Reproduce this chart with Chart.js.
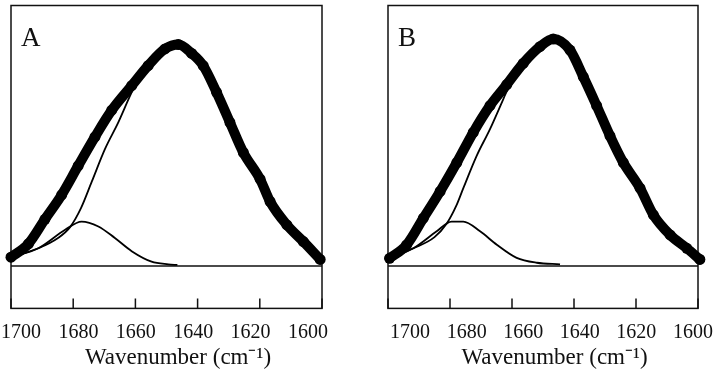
<!DOCTYPE html>
<html>
<head>
<meta charset="utf-8">
<script src="https://cdn.jsdelivr.net/npm/chart.js@4"></script>
<style>
  html, body { margin: 0; padding: 0; background: #fff; }
  .panel { position: absolute; top: 0; width: 360px; height: 379px; }
</style>
</head>
<body>
<div class="panel" style="left:0"><canvas id="chartA" width="360" height="379"></canvas></div>
<div class="panel" style="left:360px"><canvas id="chartB" width="360" height="379"></canvas></div>
<script>
// tick values of the wavenumber axis
const tickValues = [1700, 1680, 1660, 1640, 1620, 1600];

// Panel A : measured spectrum (thick) + the two fitted components
const sumWaveA = [1700, 1694.4, 1689.1, 1683.7, 1678.4, 1673, 1667.6, 1661.2, 1655.9, 1650.5, 1646.2, 1641.9, 1638.2, 1633.9, 1629.6, 1625.3, 1619.9, 1616.7, 1611.3, 1606, 1600.6];
const sumA = [0.04, 0.10, 0.21, 0.32, 0.45, 0.58, 0.70, 0.81, 0.90, 0.975, 0.995, 0.955, 0.90, 0.78, 0.645, 0.51, 0.39, 0.29, 0.185, 0.11, 0.03];
const mainWaveA = [1700, 1691.2, 1685, 1681, 1677.5, 1674, 1669.8, 1665.5, 1661.7, 1660.5, 1655.9, 1650.5, 1646.2, 1641.9, 1638.2, 1633.9, 1629.6, 1625.3, 1619.9, 1616.7, 1611.3, 1606, 1600.6];
const mainA = [0.04, 0.08, 0.125, 0.175, 0.26, 0.38, 0.525, 0.645, 0.765, 0.80, 0.89, 0.97, 0.99, 0.955, 0.90, 0.78, 0.645, 0.51, 0.39, 0.29, 0.185, 0.11, 0.03];
const smallWaveA = [1700, 1691.2, 1682.6, 1677.3, 1671.9, 1666.6, 1661.2, 1654.8, 1649.4, 1646.5];
const smallA = [0.04, 0.08, 0.163, 0.20, 0.178, 0.126, 0.067, 0.02, 0.008, 0.005];

// Panel B
const sumWaveB = [1699.5, 1694, 1688.6, 1683.2, 1677.8, 1672.5, 1667.1, 1661.7, 1656.4, 1651, 1646.7, 1641.3, 1637, 1632.7, 1628.4, 1624.1, 1618.7, 1614.4, 1609, 1603.6, 1599.4];
const sumB = [0.035, 0.095, 0.215, 0.335, 0.465, 0.60, 0.72, 0.815, 0.91, 0.985, 1.02, 0.97, 0.85, 0.72, 0.585, 0.465, 0.35, 0.23, 0.14, 0.08, 0.03];
const mainWaveB = [1699.5, 1691.8, 1685, 1681.1, 1678, 1675.7, 1671.4, 1667.1, 1662.8, 1661.7, 1656.4, 1651, 1646.7, 1641.3, 1637, 1632.7, 1628.4, 1624.1, 1618.7, 1614.4, 1609, 1603.6, 1599.4];
const mainB = [0.035, 0.08, 0.13, 0.19, 0.27, 0.35, 0.495, 0.615, 0.75, 0.785, 0.905, 0.98, 1.015, 0.97, 0.85, 0.72, 0.585, 0.465, 0.35, 0.23, 0.14, 0.08, 0.03];
const smallWaveB = [1699.5, 1691.8, 1684.3, 1679.5, 1675.7, 1670.3, 1664.9, 1658.5, 1652, 1644.5];
const smallB = [0.035, 0.08, 0.156, 0.20, 0.20, 0.156, 0.096, 0.037, 0.015, 0.008];

const serif = "'Liberation Serif', 'Times New Roman', serif";
const toPoints = (xs, ys) => xs.map((x, i) => ({ x: x, y: ys[i] }));

// frame, zero line, inward ticks and panel letter
const framePlugin = {
  id: 'frame',
  beforeDatasetsDraw(chart, args, opts) {
    const { ctx, chartArea: a, scales } = chart;
    const y0 = scales.y.getPixelForValue(0);
    ctx.save();
    ctx.strokeStyle = '#111';
    ctx.lineWidth = 1.5;
    ctx.strokeRect(a.left, a.top, a.right - a.left, a.bottom - a.top);
    ctx.beginPath();
    ctx.moveTo(a.left, y0);
    ctx.lineTo(a.right, y0);
    tickValues.forEach(v => {
      const px = scales.x.getPixelForValue(v);
      ctx.moveTo(px, a.bottom);
      ctx.lineTo(px, a.bottom - 10);
    });
    ctx.stroke();
    ctx.fillStyle = '#111';
    ctx.font = '27px ' + serif;
    ctx.textBaseline = 'alphabetic';
    ctx.fillText(opts.letter, a.left + 10, a.top + 40);
    ctx.restore();
  }
};

function buildPanel(id, letter, sumW, sumY, mainW, mainY, smallW, smallY, pad, labelMin, labelMax) {
  new Chart(document.getElementById(id), {
    type: 'line',
    data: {
      datasets: [
        {
          label: 'spectrum',
          data: toPoints(sumW, sumY),
          borderColor: '#000',
          backgroundColor: '#000',
          borderWidth: 10,
          pointRadius: 5.5,
          pointBackgroundColor: '#000',
          pointBorderWidth: 0,
          cubicInterpolationMode: 'monotone',
          borderCapStyle: 'round',
          borderJoinStyle: 'round',
          clip: false
        },
        {
          label: 'component 1',
          data: toPoints(mainW, mainY),
          borderColor: '#000',
          borderWidth: 1.8,
          pointRadius: 0,
          cubicInterpolationMode: 'monotone'
        },
        {
          label: 'component 2',
          data: toPoints(smallW, smallY),
          borderColor: '#000',
          borderWidth: 1.8,
          pointRadius: 0,
          cubicInterpolationMode: 'monotone'
        }
      ]
    },
    options: {
      responsive: false,
      animation: false,
      layout: { padding: pad },
      plugins: {
        legend: { display: false },
        tooltip: { enabled: false },
        frame: { letter: letter }
      },
      scales: {
        x: {
          type: 'linear',
          reverse: true,
          min: 1600,
          max: 1700,
          display: false
        },
        xl: {
          type: 'linear',
          position: 'bottom',
          reverse: true,
          min: labelMin,
          max: labelMax,
          afterBuildTicks: s => { s.ticks = tickValues.map(v => ({ value: v })); },
          grid: { display: false, drawTicks: true, tickLength: 12 },
          border: { display: false },
          ticks: {
            padding: 0,
            color: '#111',
            font: { family: serif, size: 20 },
            maxRotation: 0,
            callback: v => String(v)
          },
          title: {
            display: true,
            text: '\u2003Wavenumber (cm⁻¹)',
            color: '#111',
            font: { family: serif, size: 23 },
            padding: { top: 0, bottom: 7 }
          }
        },
        y: {
          type: 'linear',
          min: -0.19,
          max: 1.17,
          display: false
        }
      }
    },
    plugins: [framePlugin]
  });
}

buildPanel('chartA', 'A', sumWaveA, sumA, mainWaveA, mainA, smallWaveA, smallA,
  { left: 11, right: 38, top: 2, bottom: 0 }, 1595.1, 1703.5);
buildPanel('chartB', 'B', sumWaveB, sumB, mainWaveB, mainB, smallWaveB, smallB,
  { left: 28, right: 22, top: 2, bottom: 0 }, 1598.2, 1707.8);
</script>
</body>
</html>
